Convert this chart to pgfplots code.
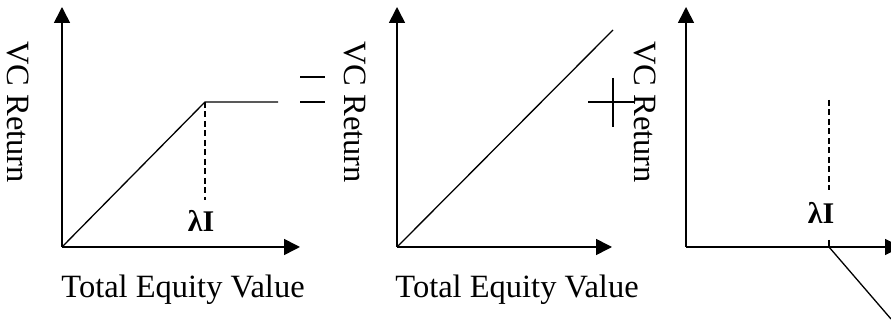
\documentclass[border=0pt]{standalone}
\usepackage{fontspec}
\setmainfont{Liberation Serif}
\usepackage{pgfplots}
\pgfplotsset{compat=1.18}
\usetikzlibrary{arrows.meta}
\begin{document}
\begin{tikzpicture}[x=1pt,y=1pt]
\path[use as bounding box] (0,0) rectangle (891,320);
\pgfplotsset{panel/.style={scale only axis, axis lines*=left, xmin=0, ymin=0, ymax=240, height=240pt,
  xtick=\empty, ytick=\empty, clip=false, anchor=origin,
  axis line style={line width=1.6pt, -{Triangle[length=16pt,width=16pt]}}}}
% Panel 1: capped return
\begin{axis}[panel, at={(62pt,73pt)}, xmax=238, width=238pt]
\addplot[black, line width=1.3pt] coordinates {(0,0) (143,145) (216,145)};
\addplot[black, line width=1.3pt, dash pattern=on 6pt off 3.5pt] coordinates {(143,145) (143,47)};
\node[font=\bfseries\fontsize{30}{34}\selectfont] at (axis cs:139,26) {λI};
\end{axis}
% Panel 2: linear
\begin{axis}[panel, at={(397pt,73pt)}, xmax=215, width=215pt]
\addplot[black, line width=1.3pt] coordinates {(0,0) (216,217)};
\end{axis}
% Panel 3: short put
\begin{axis}[panel, at={(686pt,73pt)}, xmax=215, width=215pt]
\addplot[black, line width=1.3pt, dash pattern=on 6pt off 3.5pt] coordinates {(143,147) (143,57)};
\addplot[black, line width=1.3pt] coordinates {(143,7) (143,0)};
\addplot[black, line width=1.3pt] coordinates {(143,0) (205,-72)};
\node[font=\bfseries\fontsize{30}{34}\selectfont] at (axis cs:135,34) {λI};
\end{axis}
% texts
\begin{scope}[font=\fontsize{32.5}{38}\selectfont]
\node[anchor=base] at (183,22) {Total Equity Value};
\node[anchor=base] at (517,22) {Total Equity Value};
\node[rotate=-90] at (18,208) {VC Return};
\node[rotate=-90] at (355,208) {VC Return};
\node[rotate=-90] at (645,208) {VC Return};
\end{scope}
% operators
\draw[line width=1.3pt] (300,243) -- (325,243);
\draw[line width=1.3pt] (300,218) -- (325,218);
\draw[line width=1.3pt] (588,218) -- (635,218);
\draw[line width=1.3pt] (613,242) -- (613,193);
\end{tikzpicture}
\end{document}
